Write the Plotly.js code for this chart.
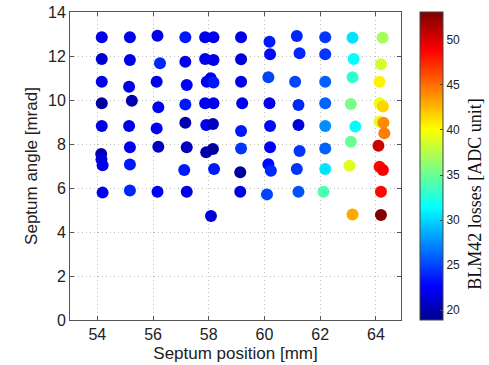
<!DOCTYPE html>
<html>
<head>
<meta charset="utf-8">
<script src="https://cdn.plot.ly/plotly-3.0.1.min.js"></script>
<style>
  html, body { margin: 0; padding: 0; background: #fff; }
  #chart { width: 489px; height: 365px; }
</style>
</head>
<body>
<div id="chart"></div>
<script>
// Septum scan: position [mm], angle [mrad] and BLM42 losses [ADC unit]
const septumPosition = [
  54.16, 54.16, 54.16, 54.16, 54.16, 54.14, 54.15, 54.19, 54.19,
  55.17, 55.17, 55.14, 55.24, 55.14, 55.17, 55.17, 55.17,
  56.16, 56.25, 56.13, 56.19, 56.13, 56.19, 56.16,
  57.16, 57.16, 57.21, 57.16, 57.16, 57.21, 57.12, 57.21,
  57.87, 58.17, 57.87, 58.17, 57.93, 58.07, 58.17, 57.87, 58.17, 57.91, 58.15, 57.91, 58.15, 58.19, 58.08,
  59.16, 59.16, 59.16, 59.20, 59.16, 59.16, 59.13, 59.13,
  60.18, 60.20, 60.14, 60.18, 60.20, 60.20, 60.14, 60.23, 60.09,
  61.16, 61.26, 61.10, 61.22, 61.22, 61.26, 61.16, 61.22,
  62.18, 62.18, 62.18, 62.18, 62.18, 62.18, 62.18, 62.12,
  63.16, 63.20, 63.16, 63.10, 63.26, 63.10, 63.05, 63.16,
  64.24, 64.18, 64.13, 64.13, 64.25, 64.13, 64.27, 64.30, 64.09, 64.13, 64.25, 64.18, 64.18
];
const septumAngle = [
  12.85, 11.86, 10.83, 9.85, 8.82, 7.55, 7.30, 7.03, 5.79,
  12.85, 11.82, 10.60, 9.97, 8.82, 7.85, 7.07, 5.89,
  12.92, 11.67, 10.83, 9.67, 8.71, 7.88, 5.83,
  12.85, 11.74, 10.68, 9.80, 8.97, 7.85, 6.82, 5.83,
  12.85, 12.85, 11.86, 11.82, 10.83, 10.99, 10.80, 9.85, 9.85, 8.86, 8.91, 7.62, 7.77, 6.86, 4.73,
  12.85, 11.85, 10.83, 9.85, 8.59, 7.80, 6.72, 5.83,
  12.65, 12.08, 11.03, 9.85, 8.82, 7.85, 7.08, 6.78, 5.71,
  12.91, 12.12, 10.83, 9.77, 8.86, 7.68, 6.86, 5.83,
  12.85, 12.08, 10.83, 9.85, 8.82, 7.80, 6.86, 5.83,
  12.83, 11.86, 11.03, 9.82, 8.79, 8.10, 7.01, 4.80,
  12.83, 11.62, 10.83, 9.85, 9.70, 9.01, 8.97, 8.49, 7.92, 6.97, 6.82, 5.83, 4.77
];
const blm42Losses = [
  22, 21, 22, 19.5, 22, 20, 21.5, 22, 22.5,
  22, 22, 22, 20, 22, 22, 23.5, 24,
  22, 24, 22, 22.5, 22.5, 20.5, 22.5,
  23.5, 22, 22.5, 23.5, 20, 20.5, 23.5, 22,
  22, 22, 22, 22, 22.5, 22, 23.5, 22, 22, 22.5, 20.5, 20, 19.5, 23.5, 21.5,
  22, 21.5, 22, 22, 23.5, 24.5, 19.5, 22,
  23.5, 23, 25, 22, 23, 22.5, 23, 24, 25,
  24, 24, 25, 24, 21.5, 24.5, 24.5, 25.5,
  24.5, 24.5, 26, 26, 27.5, 26, 30.5, 34,
  30.5, 31.5, 33, 35.5, 31.5, 35, 39, 43,
  37, 38.5, 40.5, 39.5, 41.5, 39, 44, 44.5, 50.5, 48.5, 49, 48.5, 53
];
const xTicks = [54, 56, 58, 60, 62, 64];
const yTicks = [0, 2, 4, 6, 8, 10, 12, 14];
const cTicks = [20, 25, 30, 35, 40, 45, 50];

// MATLAB-style jet colour map
const jet = [
  [0.000, 'rgb(0,0,143)'],
  [0.111, 'rgb(0,0,255)'],
  [0.365, 'rgb(0,255,255)'],
  [0.619, 'rgb(255,255,0)'],
  [0.873, 'rgb(255,0,0)'],
  [1.000, 'rgb(128,0,0)']
];

const sans = 'Liberation Sans, Arial, Helvetica, sans-serif';
const serif = 'Liberation Serif, Times New Roman, serif';

const trace = {
  type: 'scatter',
  mode: 'markers',
  x: septumPosition,
  y: septumAngle,
  marker: {
    size: 12,
    color: blm42Losses,
    colorscale: jet,
    cmin: 18.9,
    cmax: 53.1,
    line: { width: 0 },
    showscale: true,
    colorbar: {
      x: 1.057, xanchor: 'left', xpad: 0,
      y: 0.5, yanchor: 'middle', ypad: 0,
      len: 1, lenmode: 'fraction',
      thickness: 23, thicknessmode: 'pixels',
      outlinewidth: 1, outlinecolor: '#444',
      tickvals: cTicks,
      ticks: 'inside', ticklen: 3, tickcolor: '#444',
      tickfont: { family: sans, size: 12, color: '#222' }
    }
  },
  hoverinfo: 'x+y'
};

const axisCommon = {
  showline: true, linecolor: '#555', linewidth: 1, mirror: 'ticks',
  ticks: 'inside', ticklen: 4, tickcolor: '#555',
  showgrid: true, gridcolor: '#bdbdbd', griddash: '1px,3px', gridwidth: 1,
  zeroline: false,
  tickfont: { family: sans, size: 16, color: '#222' }
};

const layout = {
  width: 489, height: 365,
  margin: { l: 70, r: 88, t: 12, b: 45 },
  paper_bgcolor: '#fff', plot_bgcolor: '#fff',
  showlegend: false,
  xaxis: Object.assign({}, axisCommon, {
    range: [53.02, 64.9],
    tickvals: xTicks,
    title: { text: 'Septum position [mm]', font: { family: sans, size: 17, color: '#222' }, standoff: 4 }
  }),
  yaxis: Object.assign({}, axisCommon, {
    range: [0, 14],
    tickvals: yTicks,
    title: { text: 'Septum angle [mrad]', font: { family: sans, size: 17, color: '#222' }, standoff: 6 }
  }),
  // colour bar label, set beside the bar
  annotations: [{
    text: 'BLM42 losses [ADC unit]',
    xref: 'paper', yref: 'paper',
    x: 1.224, y: 0.41,
    xanchor: 'center', yanchor: 'middle',
    textangle: -90, showarrow: false,
    font: { family: serif, size: 18, color: '#111' }
  }]
};

Plotly.newPlot('chart', [trace], layout, { displayModeBar: false, staticPlot: true });
</script>
</body>
</html>
